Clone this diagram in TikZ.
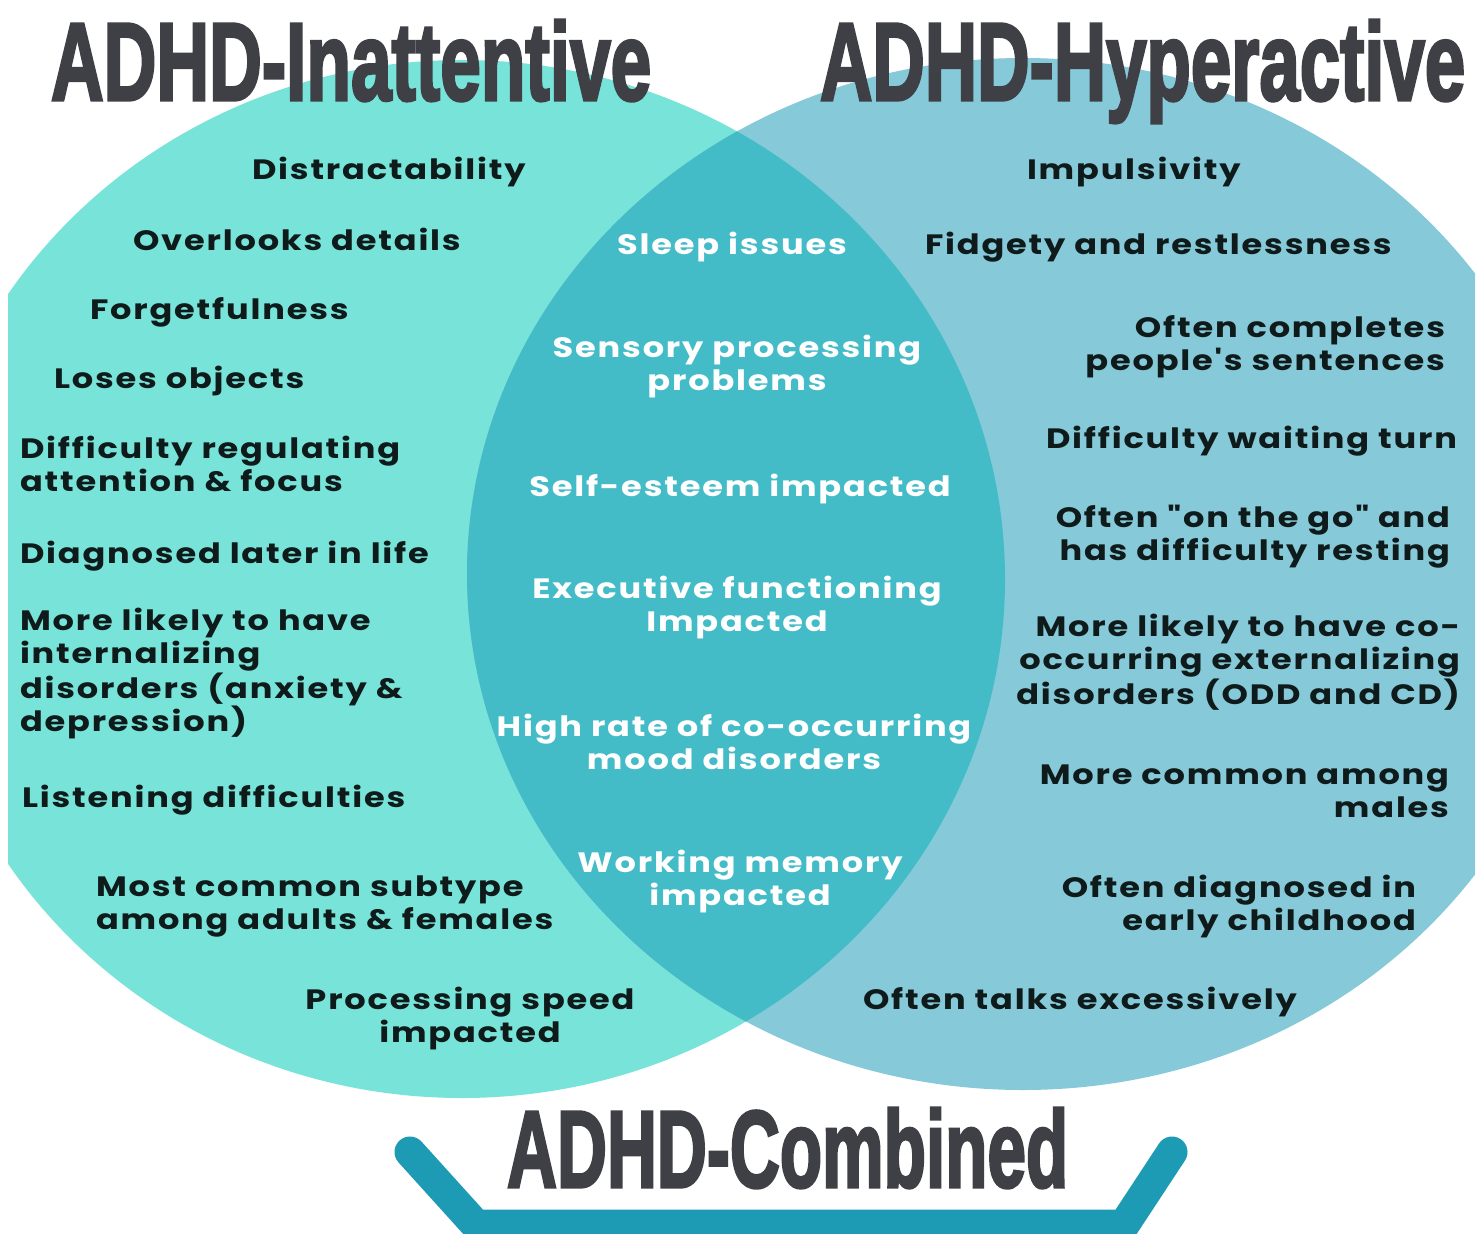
\documentclass[tikz,border=0pt]{standalone}
\usepackage{fontspec}
\setmainfont{Poppins}[FakeStretch=1.2, LetterSpace=6.5, Ligatures=TeXOff]
\newfontfamily\titlefont{Liberation Sans}[BoldFeatures={FakeBold=3}]
\definecolor{leftc}{HTML}{78E4D9}
\definecolor{rightc}{HTML}{86C9D8}
\definecolor{overc}{HTML}{43BCC8}
\definecolor{txtdark}{HTML}{0F1A1B}
\definecolor{ttlc}{HTML}{3F3F46}
\definecolor{brkc}{HTML}{1E9BB4}
\begin{document}
\begin{tikzpicture}[x=1pt,y=-1pt,
  every node/.style={inner sep=0pt, outer sep=0pt},
  dark/.style={font=\fontsize{28}{33}\selectfont\bfseries, text=txtdark},
  light/.style={font=\fontsize{28}{33}\selectfont\bfseries, text=white, align=center, anchor=base},
  ttl/.style={font=\titlefont\bfseries, text=ttlc, anchor=base west}]
\useasboundingbox (0,0) rectangle (1483,1234);
\fill[white] (0,0) rectangle (1483,1234);
% circles
\begin{scope}
  \clip (8,0) rectangle (1475,1234);
  \fill[leftc] (462,579) ellipse [x radius=543, y radius=519];
  \fill[rightc] (1023,574) ellipse [x radius=556, y radius=516];
  \clip (462,579) ellipse [x radius=543, y radius=519];
  \fill[overc] (1023,574) ellipse [x radius=556, y radius=516];
\end{scope}
% bracket
\coordinate (b1) at (410,1152);
\coordinate (b2) at (476,1225);
\coordinate (b3) at (1124,1225);
\coordinate (b4) at (1172,1152);
\draw[brkc, line width=31pt, line cap=round, line join=round] (b1) -- (b2) -- (b3) -- (b4);
% titles
\node[ttl] (tin) at (51,100) {\resizebox{600pt}{80pt}{ADHD-Inattentive}};
\node[ttl] (thy) at (820,100) {\resizebox{645pt}{80pt}{ADHD-Hyperactive}};
\node[ttl] (tco) at (507,1187) {\resizebox{561pt}{79pt}{ADHD-Combined}};
% left
\node[dark, anchor=base west] (l1) at (252,179) {Distractability};
\node[dark, anchor=base west] (l2) at (133,250) {Overlooks details};
\node[dark, anchor=base west] (l3) at (90,319) {Forgetfulness};
\node[dark, anchor=base west] (l4) at (54,388) {Loses objects};
\node[dark, anchor=base west, align=left] (l5) at (20,491) {Difficulty regulating\\attention \& focus};
\node[dark, anchor=base west] (l6) at (20,563) {Diagnosed later in life};
\node[dark, anchor=base west, align=left] (l7) at (20,731) {More likely to have\\internalizing\\disorders (anxiety \&\\depression)};
\node[dark, anchor=base west] (l8) at (22,807) {Listening difficulties};
\node[dark, anchor=base west, align=left] (l9) at (96,929) {Most common subtype\\among adults \& females};
\node[dark, anchor=base, align=center] (l10) at (470,1042) {Processing speed\\impacted};
% center
\node[light] (c1) at (732,254) {Sleep issues};
\node[light] (c2) at (737,390) {Sensory processing\\problems};
\node[light] (c3) at (740,496) {Self-esteem impacted};
\node[light] (c4) at (737,631) {Executive functioning\\Impacted};
\node[light] (c5) at (734,769) {High rate of co-occurring\\mood disorders};
\node[light] (c6) at (740,905) {Working memory\\impacted};
% right
\node[dark, anchor=base west] (r1) at (1027,179) {Impulsivity};
\node[dark, anchor=base west] (r2) at (925,254) {Fidgety and restlessness};
\node[dark, anchor=base east, align=right] (r3) at (1445,370) {Often completes\\people's sentences};
\node[dark, anchor=base east] (r4) at (1457,448) {Difficulty waiting turn};
\node[dark, anchor=base east, align=right] (r5) at (1450,560) {Often "on the go" and\\has difficulty resting};
\node[dark, anchor=base east, align=right] (r6) at (1460,704) {More likely to have co-\\occurring externalizing\\disorders (ODD and CD)};
\node[dark, anchor=base east, align=right] (r7) at (1449,817) {More common among\\males};
\node[dark, anchor=base east, align=right] (r8) at (1416,930) {Often diagnosed in\\early childhood};
\node[dark, anchor=base west] (r9) at (863,1009) {Often talks excessively};
\end{tikzpicture}
\end{document}
